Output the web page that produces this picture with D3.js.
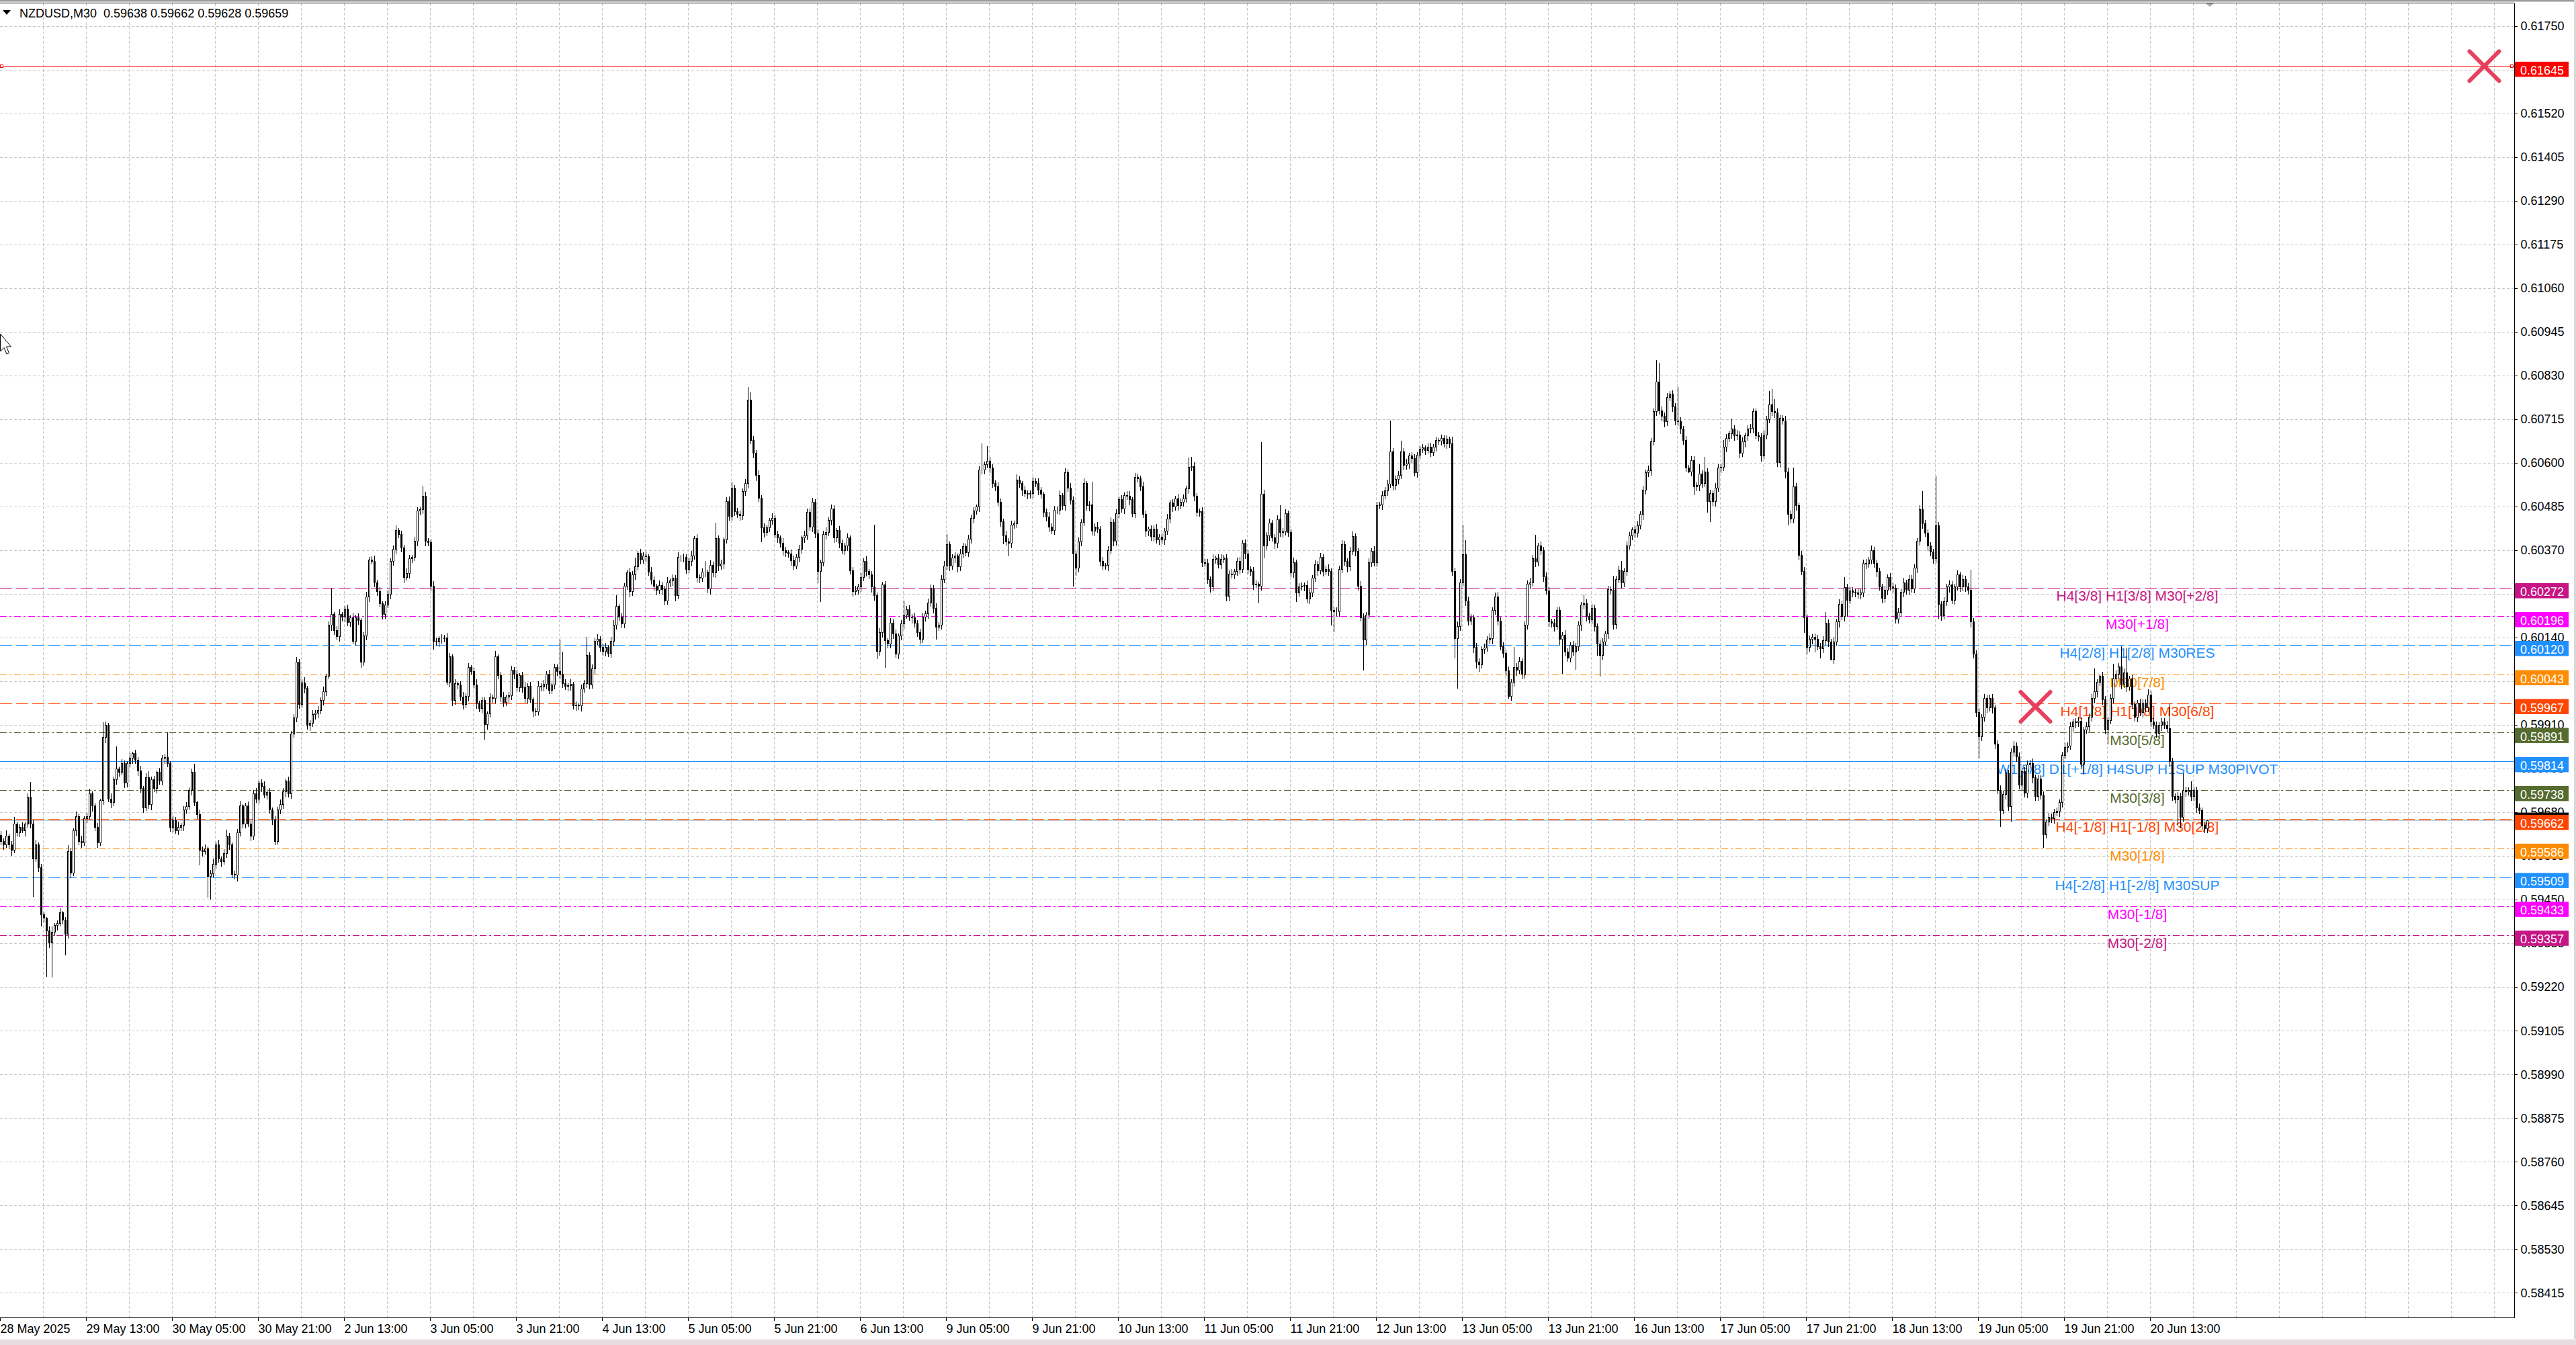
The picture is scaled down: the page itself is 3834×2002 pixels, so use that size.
<!DOCTYPE html>
<html>
<head>
<meta charset="utf-8">
<script src="https://cdn.jsdelivr.net/npm/d3@7"></script>
<style>
  body { margin: 0; background: #ffffff; }
  svg { display: block; }
</style>
</head>
<body>
<svg id="chart"></svg>
<script>
// NZDUSD M30, one value per bar, in points (0.00001) above priceBase
const priceBase = 0.59;
const firstOpen = 620;
const closes = [
  // 28 May 21:00 ..
  605,596,619,596,582,651,628,642,633,651,721,651,559,596,536,411,
  402,369,337,365,383,388,416,397,360,578,522,633,670,605,601,665,
  670,730,698,642,601,712,878,910,716,707,767,795,786,809,758,809,
  823,836,818,790,744,693,772,702,767,744,786,763,823,825,809,642,
  661,633,642,647,688,696,739,786,707,675,582,578,585,513,520,545,
  596,559,552,573,619,596,517,515,628,698,651,698,651,619,730,716,
  758,749,727,733,688,661,605,688,702,735,763,730,887,929,1077,966,
  1021,1008,910,915,938,943,949,975,998,1040,1174,1202,1160,1144,1202,1195,
  1216,1181,1193,1132,1193,1186,1077,1146,
  1248,1346,1342,1286,1262,1230,1202,1227,1255,1342,1374,1423,1412,1377,1300,1310,
  1349,1352,1395,1475,1478,1514,1395,1392,1276,1132,1129,1139,1139,1140,1024,1090,
  975,1020,1017,985,965,986,1062,1052,1017,968,954,975,912,940,982,981,
  1090,1041,985,971,985,988,1055,1045,1010,1041,1010,981,1013,978,947,945,
  1013,1012,1019,1045,1003,1017,1062,1052,1045,1020,1013,1014,1018,961,963,961,
  1006,1020,1094,1017,1059,1132,1136,1115,1105,1115,1100,1132,1174,1223,1195,1178,
  1276,1311,1262,1307,1328,1363,1346,1356,1354,1314,1293,1276,1265,1279,1268,1237,
  1286,1290,1297,1251,1353,1352,1353,1321,1342,1356,1402,1300,1297,1314,1314,1269,
  1332,1311,1402,1330,1335,1398,1500,1461,1535,1472,1466,
  1462,1526,1547,1767,1661,1626,1568,1509,1430,1418,1430,1450,1456,1412,1403,1389,
  1371,1365,1362,1344,1330,1353,1374,1403,1409,1471,1433,1497,1415,1315,1339,1412,
  1418,1450,1480,1403,1424,1389,1371,1383,1403,1318,1262,1266,1274,1300,1342,1315,
  1306,1274,1251,1104,1154,1280,1133,1124,1180,1151,1098,1145,1177,1201,1215,1195,
  1193,1180,1154,1137,1195,1204,1233,1271,1218,1168,1174,1295,1330,1386,1330,1350,
  1356,1327,1362,1380,1365,1400,1456,1474,1485,1582,1583,1597,1606,1588,1547,1538,
  1497,1447,1409,1394,1389,1438,1441,1556,1547,1529,1520,1518,1521,1553,1547,1529,
  1518,1471,1459,1433,1424,1477,1477,1515,1488,1576,1535,1503,1362,1324,1394,1444,
  1547,1488,1491,1421,1433,1427,1342,1330,1331,1371,1444,1395,
  1468,1504,1480,1516,1514,1504,1468,1563,1560,1539,1466,1421,1426,1407,1427,1398,
  1405,1398,1421,1454,1495,1486,1507,1489,1498,1507,1533,1589,1592,1513,1471,1472,
  1339,1337,1294,1274,1348,1350,1333,1348,1350,1250,1309,1307,1315,1342,1321,1389,
  1362,1321,1315,1280,1281,1277,1519,1383,1409,1442,1404,1389,1451,1418,1420,1468,
  1418,1312,1339,1259,1274,1277,1279,1242,1259,1297,1333,1318,1353,1315,1321,1315,
  1212,1210,1209,1321,1386,1342,1327,1368,1407,1368,1277,1194,1135,1200,1339,1368,
  1339,1489,1490,1516,1528,1545,1631,1542,1557,1569,1631,1595,1599,1619,1613,1575,
  1622,1637,1640,1634,1643,1628,1643,1660,1658,1666,1651,1663,1651,1315,1138,1171,
  1286,1359,1238,1185,1194,1115,1076,1070,1111,1114,1135,1138,
  1212,1249,1185,1118,1100,1054,987,1023,1063,1055,1078,1045,1173,1282,1285,1349,
  1340,1383,1370,1301,1264,1182,1179,1170,1212,1136,1148,1103,1088,1121,1103,1118,
  1173,1227,1231,1197,1188,1218,1170,1124,1094,1130,1151,1267,1265,1176,1294,1319,
  1285,1316,1383,1410,1425,1416,1435,1465,1529,1575,1581,1657,1736,1815,1739,1724,
  1709,1773,1782,1748,1712,1710,1690,1660,1587,1578,1608,1538,1541,1572,1547,1578,
  1499,1520,1499,1535,1587,1590,1642,1666,1678,1690,1672,1675,1626,1657,1672,1690,
  1692,1736,1672,1669,1620,1675,1715,1754,1736,1733,1602,1718,1712,1578,1465,1453,
  1538,1489,1358,1316,1194,1115,1136,1142,1136,1118,1112,1133,1179,1130,1084,1130,
  1182,1228,1197,1273,1240,1264,1261,1258,1256,1259,1337,1335,
  1345,1370,1336,1315,1274,1244,1265,1299,1274,1272,1190,1207,1261,1286,1265,1295,
  1269,1324,1395,1478,1441,1416,1382,1366,1349,1436,1228,1198,1236,1274,1280,1240,
  1274,1307,1274,1295,1274,1265,1182,1098,944,881,931,981,956,981,956,860,
  739,685,728,785,697,839,856,827,752,789,731,806,810,772,723,768,
  727,622,656,668,664,681,683,706,831,852,856,906,919,917,921,808,
  898,906,931,981,998,1023,1040,977,898,923,981,1032,1044,1065,1019,1048,
  1011,1032,965,931,969,944,969,956,990,919,910,889,910,919,910,902,
  814,723,714,723,668,739,735,739,723,739,693,685,647,638,659
];
// upper / lower shadow length of each bar, points
const wickUp = [
  12,8,15,6,10,18,7,9,14,5,11,40,9,13,6,10,
  8,5,12,16,7,10,14,6,9,18,11,7,13,8,15,6,
  10,14,7,9,12,6,42,11,8,16,9,60,7,13,10,8,
  15,6,11,9,14,7,12,18,8,10,6,13,9,11,67,7,
  12,9,16,7,10,13,8,11,23,6,14,9,12,7,10,15,
  8,13,6,11,17,9,7,12,10,14,6,9,13,8,11,16,
  7,10,15,9,12,6,11,8,14,10,7,13,9,12,14,8,
  11,16,7,10,13,8,12,9,15,6,10,69,8,12,14,7,
  10,13,8,15,9,12,7,11,14,8,10,16,9,12,7,11,
  13,8,10,15,7,12,9,14,11,8,13,10,7,28,12,9,
  8,14,10,7,12,9,15,11,8,13,6,10,14,9,12,7,
  11,15,8,12,10,7,13,9,16,8,11,14,7,10,12,9,
  13,8,11,15,9,12,7,10,14,8,12,9,13,7,11,10,
  84,60,12,9,14,8,11,7,13,10,49,9,12,8,15,10,
  9,13,7,11,14,30,8,12,10,9,15,11,25,8,12,10,
  12,8,14,10,7,13,9,11,15,8,12,10,13,7,11,9,
  10,14,8,12,9,11,30,7,13,10,42,9,12,8,11,14,
  17,9,12,10,8,13,34,21,11,9,14,8,12,10,7,13,
  9,12,8,14,10,7,11,13,9,12,8,15,10,11,13,9,
  12,8,11,14,9,13,10,7,12,11,9,14,8,10,13,9,
  11,9,14,8,12,165,10,13,9,11,8,14,10,12,7,11,
  38,10,12,9,14,8,11,13,9,12,10,9,14,8,11,13,
  29,9,12,10,8,14,11,9,13,10,12,8,11,70,9,40,
  12,10,9,13,11,8,14,10,12,9,15,11,8,13,10,9,
  12,9,14,10,8,11,13,9,12,10,14,8,11,9,13,10,
  9,12,10,14,8,11,62,10,13,9,12,8,11,14,9,12,
  10,13,9,11,14,8,12,10,9,13,11,8,12,10,14,9,
  11,9,13,10,12,8,14,10,11,9,27,25,12,10,9,13,
  10,12,9,14,8,11,13,9,12,10,14,8,11,13,9,12,
  10,9,13,11,8,138,12,10,14,9,11,13,40,10,12,9,
  11,13,9,12,10,8,14,11,9,13,10,12,8,11,14,10,
  9,12,10,13,11,8,12,14,9,10,13,11,9,12,10,14,
  11,9,12,10,13,82,9,11,12,29,10,13,9,11,12,8,
  9,11,8,10,12,9,11,8,10,9,12,8,20,11,13,10,
  80,40,12,10,9,13,11,8,12,10,14,9,11,13,10,12,
  9,12,10,55,11,13,9,12,10,14,11,64,9,12,10,13,
  11,9,13,10,12,8,14,11,9,13,10,12,9,24,11,10,
  12,10,9,13,11,8,12,10,40,11,13,24,9,12,10,8,
  11,13,9,12,10,14,11,9,58,50,12,10,13,9,11,12,
  90,12,10,13,9,11,12,10,27,11,39,10,12,9,13,11,
  10,20,12,9,28,11,13,10,12,9,11,13,10,9,12,10,
  13,11,37,43,34,12,10,9,13,11,12,52,10,9,12,11,
  10,12,9,11,13,10,12,30,11,9,13,10,15,12,28,11,
  12,10,9,13,11,10,12,9,14,10,12,11,9,13,10,12,
  11,9,12,10,13,9,11,12,10,9,13,50,11,10,12,9,
  132,11,10,12,9,13,11,10,12,9,11,10,12,55,11,10,
  12,9,13,11,10,12,9,11,13,10,12,9,11,13,10,12,
  9,11,12,10,13,9,11,12,10,9,13,11,10,12,9,11,
  12,10,13,9,11,12,10,9,13,11,12,63,10,4,11,12,
  10,12,41,11,9,54,12,66,10,13,11,9,12,10,11,16,
  12,10,11,9,13,10,12,67,11,9,12,10,46,11,9,25,
  11,10,12,9,10,3
];
const wickDn = [
  9,13,7,11,15,8,10,12,6,14,9,11,100,8,12,30,
  10,120,13,90,9,12,7,11,55,10,14,8,12,9,13,7,
  11,8,14,9,12,7,10,13,8,15,9,12,10,7,13,11,
  9,14,8,12,10,13,7,11,15,9,12,8,10,14,9,11,
  13,8,11,9,14,10,7,12,9,11,40,13,8,55,60,10,
  12,9,14,7,11,13,8,10,15,9,12,11,8,13,10,9,
  11,14,8,12,9,13,10,7,12,11,14,9,13,8,10,12,
  9,12,10,14,8,11,13,9,12,10,7,14,11,9,12,10,
  13,9,11,8,12,10,14,9,11,13,8,12,10,9,13,11,
  8,12,10,13,9,11,14,8,12,10,9,13,11,10,12,9,
  12,21,9,11,13,10,8,12,14,9,11,10,13,9,12,8,
  10,13,9,11,39,12,8,10,13,9,12,11,9,14,10,12,
  9,11,13,10,12,8,14,10,9,12,11,13,10,9,12,11,
  12,10,9,13,11,8,12,10,14,9,11,12,10,13,9,11,
  10,12,9,11,13,10,8,12,11,9,13,10,12,9,11,10,
  13,9,11,10,12,8,14,10,9,12,11,13,9,10,12,11,
  10,12,9,13,11,8,12,10,14,9,11,12,10,13,9,11,
  12,10,9,13,11,10,12,9,11,13,10,36,12,9,11,10,
  9,12,10,13,11,9,12,10,8,13,11,12,10,9,13,11,
  29,80,10,12,9,13,11,10,12,9,11,13,10,12,9,11,
  11,9,12,10,13,11,18,9,12,70,10,11,13,9,12,10,
  12,10,9,13,11,10,12,9,11,13,10,12,31,9,11,10,
  10,12,9,11,13,10,12,9,11,10,13,9,12,10,11,9,
  12,10,11,9,13,21,10,33,12,9,11,10,13,9,12,10,
  11,9,12,10,13,11,13,10,12,9,11,10,12,9,11,85,
  20,10,12,9,11,13,10,12,9,12,11,10,13,9,12,10,
  11,9,12,10,13,9,11,10,12,9,13,11,10,12,9,11,
  10,12,9,11,13,10,12,9,11,10,13,9,12,10,11,12,
  9,11,13,10,12,9,11,10,13,12,9,11,10,12,9,13,
  11,10,12,9,45,11,33,10,12,9,13,11,10,12,9,11,
  10,12,24,11,9,13,10,12,11,9,13,10,12,9,11,39,
  54,10,12,9,11,13,10,9,12,11,10,80,12,9,11,10,
  12,9,11,10,13,9,12,10,11,9,12,10,13,11,9,12,
  10,9,11,8,10,9,11,8,10,9,12,10,11,50,130,12,
  10,12,11,9,13,15,18,10,12,9,11,13,10,12,9,11,
  12,6,11,10,13,9,12,11,10,12,9,13,11,10,12,9,
  11,10,12,9,13,90,11,10,12,9,45,11,13,10,12,9,
  10,12,30,55,11,9,13,10,12,11,9,13,10,12,9,11,
  12,10,9,13,11,10,12,9,11,10,12,13,10,9,12,11,
  10,12,11,9,3,12,21,10,13,11,9,28,52,10,12,9,
  11,10,12,9,13,11,10,12,9,15,11,10,12,9,11,15,
  10,12,9,11,13,10,12,9,16,27,11,10,13,12,9,40,
  18,10,12,33,9,25,11,10,12,3,11,10,13,9,12,43,
  10,12,9,11,13,10,12,9,11,10,13,9,12,10,11,9,
  12,10,11,9,13,10,12,9,11,12,10,13,9,11,10,12,
  10,37,12,9,11,13,10,12,9,11,10,12,9,13,11,10,
  58,11,10,12,9,13,11,10,42,9,12,11,40,10,12,9,
  11,10,12,9,13,11,10,12,33,9,11,10,12,9,13,11,
  10,12,9,11,13,10,12,27,9,11,10,12,13,9,11,10,
  38,10,12,9,11,13,10,12,9,11,10,12,9,13,11,10,
  12,9,11,10,13,9,12,10,11,9,67,29,10,12,9,11,
  10,12,9,11,10,10
];

// time axis labels, one every 32 bars
const timeLabels = [
  "28 May 2025", "29 May 13:00", "30 May 05:00", "30 May 21:00", "2 Jun 13:00",
  "3 Jun 05:00", "3 Jun 21:00", "4 Jun 13:00", "5 Jun 05:00", "5 Jun 21:00",
  "6 Jun 13:00", "9 Jun 05:00", "9 Jun 21:00", "10 Jun 13:00", "11 Jun 05:00",
  "11 Jun 21:00", "12 Jun 13:00", "13 Jun 05:00", "13 Jun 21:00", "16 Jun 13:00",
  "17 Jun 05:00", "17 Jun 21:00", "18 Jun 13:00", "19 Jun 05:00", "19 Jun 21:00",
  "20 Jun 13:00"
];

// price axis labels
const priceTicks = [
  "0.61750", "0.61635", "0.61520", "0.61405", "0.61290", "0.61175", "0.61060",
  "0.60945", "0.60830", "0.60715", "0.60600", "0.60485", "0.60370", "0.60255",
  "0.60140", "0.60025", "0.59910", "0.59795", "0.59680", "0.59565", "0.59450",
  "0.59335", "0.59220", "0.59105", "0.58990", "0.58875", "0.58760", "0.58645",
  "0.58530", "0.58415"
];

// Murrey levels drawn on the chart
const levelPrices = [0.60272, 0.60196, 0.60120, 0.60043, 0.59967, 0.59891, 0.59814,
  0.59738, 0.59662, 0.59586, 0.59509, 0.59433, 0.59357];
const levelNames = [
  "H4[3/8] H1[3/8] M30[+2/8]", "M30[+1/8]", "H4[2/8] H1[2/8] M30RES", "M30[7/8]",
  "H4[1/8] H1[1/8] M30[6/8]", "M30[5/8]", "W1[5/8] D1[+1/8] H4SUP H1SUP M30PIVOT",
  "M30[3/8]", "H4[-1/8] H1[-1/8] M30[2/8]", "M30[1/8]", "H4[-2/8] H1[-2/8] M30SUP",
  "M30[-1/8]", "M30[-2/8]"
];
const targetPrice = 0.61645;
// cross objects: [bar index, price]
const crossMarks = [[924, 0.61645], [757, 0.59958]];

// styles for the levels (kept apart from the values)
const levelColors = ["#c71585", "#ff00ff", "#1e90ff", "#ff8c00", "#ff4500", "#556b2f", "#1e90ff",
  "#556b2f", "#ff4500", "#ff8c00", "#1e90ff", "#ff00ff", "#c71585"];
const DASH = "18,6", DASHDOT = "10,4,3,4";
const levelDash = [DASH, DASHDOT, DASH, DASHDOT, DASH, DASHDOT, null,
  DASHDOT, DASH, DASHDOT, DASH, DASHDOT, DASHDOT];

DrawChart();

function DrawChart() {
  const width = 3834;
  const height = 2002;
  const plotRight = 3742;
  const plotTop = 4.5;
  const plotBottom = 1961.5;
  const font = "'Liberation Sans', Arial, sans-serif";
  const toPrice = (v) => priceBase + v / 100000;

  const bars = closes.map((c, i) => {
    const o = i === 0 ? firstOpen : closes[i - 1];
    return {
      i: i,
      o: toPrice(o),
      c: toPrice(c),
      h: toPrice(Math.max(o, c) + wickUp[i]),
      l: toPrice(Math.min(o, c) - wickDn[i]),
    };
  });
  const last = bars[bars.length - 1];

  const svg = d3.select("#chart").attr("width", width).attr("height", height);

  // Create scales
  const xScale = d3.scaleLinear().domain([0, 935.5]).range([0, plotRight]);
  const yScale = d3
    .scaleLinear()
    .domain([0.58415, 0.6175])
    .range([1924.3, 39]);
  const py = (p) => Math.round(yScale(p)) + 0.5;

  svg.append("rect").attr("width", width).attr("height", height).attr("fill", "#ffffff");

  // Grid
  const grid = svg.append("g").attr("stroke", "#c6c6c6").attr("stroke-dasharray", "4,3").attr("shape-rendering", "crispEdges");
  grid
    .selectAll(".hgrid")
    .data(priceTicks.map(Number))
    .join("line")
    .attr("class", "hgrid")
    .attr("x1", 0)
    .attr("x2", plotRight)
    .attr("y1", py)
    .attr("y2", py);
  grid
    .selectAll(".vgrid")
    .data(d3.range(16, 935, 16))
    .join("line")
    .attr("class", "vgrid")
    .attr("x1", (d) => Math.round(xScale(d)) + 0.5)
    .attr("x2", (d) => Math.round(xScale(d)) + 0.5)
    .attr("y1", plotTop)
    .attr("y2", plotBottom);

  // Bid line
  svg
    .append("line")
    .attr("x1", 0)
    .attr("x2", plotRight)
    .attr("y1", py(last.c))
    .attr("y2", py(last.c))
    .attr("stroke", "#c0c0c0")
    .attr("shape-rendering", "crispEdges");

  // Level lines
  svg
    .append("g")
    .selectAll("line")
    .data(levelPrices)
    .join("line")
    .attr("x1", 0)
    .attr("x2", plotRight)
    .attr("y1", py)
    .attr("y2", py)
    .attr("stroke", (d, i) => levelColors[i])
    .attr("stroke-dasharray", (d, i) => levelDash[i])
    .attr("shape-rendering", "crispEdges");

  // Target line with its anchor points
  svg
    .append("line")
    .attr("x1", 0)
    .attr("x2", plotRight)
    .attr("y1", py(targetPrice))
    .attr("y2", py(targetPrice))
    .attr("stroke", "#ff0000")
    .attr("shape-rendering", "crispEdges");
  svg
    .selectAll(".anchor")
    .data([0.5, plotRight - 5.5])
    .join("rect")
    .attr("class", "anchor")
    .attr("x", (d) => d)
    .attr("y", py(targetPrice) - 2)
    .attr("width", 4)
    .attr("height", 4)
    .attr("fill", "#ffffff")
    .attr("stroke", "#ff0000")
    .attr("shape-rendering", "crispEdges");

  // Level captions
  svg
    .append("g")
    .selectAll("text")
    .data(levelPrices)
    .join("text")
    .attr("x", 3181)
    .attr("y", (d) => yScale(d) + 19)
    .attr("text-anchor", "middle")
    .attr("font-family", font)
    .attr("font-size", "21px")
    .attr("fill", (d, i) => levelColors[i])
    .text((d, i) => levelNames[i]);

  // Candles
  const candles = svg.append("g").attr("shape-rendering", "crispEdges");
  candles
    .selectAll("line")
    .data(bars)
    .join("line")
    .attr("x1", (d) => xScale(d.i) + 1.5)
    .attr("x2", (d) => xScale(d.i) + 1.5)
    .attr("y1", (d) => py(d.h))
    .attr("y2", (d) => py(d.l))
    .attr("stroke", "#000000");
  candles
    .selectAll("rect")
    .data(bars)
    .join("rect")
    .attr("x", (d) => xScale(d.i) + 0.5)
    .attr("y", (d) => py(Math.max(d.o, d.c)))
    .attr("width", 2)
    .attr("height", (d) => py(Math.min(d.o, d.c)) - py(Math.max(d.o, d.c)))
    .attr("fill", (d) => (d.c >= d.o ? "#ffffff" : "#000000"))
    .attr("stroke", "#000000");

  // Cross objects
  crossMarks.forEach(([bar, price]) => {
    const cx = xScale(bar) + 1.5;
    const cy = yScale(price);
    const r = 22;
    svg
      .append("path")
      .attr("d", `M${cx - r},${cy - r}L${cx + r},${cy + r}M${cx + r},${cy - r}L${cx - r},${cy + r}`)
      .attr("stroke", "#e8405f")
      .attr("stroke-width", 6)
      .attr("stroke-linecap", "round")
      .attr("fill", "none");
  });

  // Frame
  const frame = svg.append("g").attr("stroke", "#000000").attr("shape-rendering", "crispEdges");
  frame.append("line").attr("x1", 0).attr("x2", plotRight).attr("y1", plotTop).attr("y2", plotTop);
  frame.append("line").attr("x1", 0).attr("x2", plotRight).attr("y1", plotBottom).attr("y2", plotBottom);
  frame.append("line").attr("x1", plotRight + 0.5).attr("x2", plotRight + 0.5).attr("y1", plotTop).attr("y2", plotBottom);

  // Add y-axis
  const yAxis = d3
    .axisRight(yScale)
    .tickValues(priceTicks.map(Number))
    .tickFormat((d, i) => priceTicks[i])
    .tickSize(4)
    .tickPadding(5);
  const yAxisG = svg
    .append("g")
    .attr("transform", `translate(${plotRight + 0.5},0)`)
    .call(yAxis);
  yAxisG.select(".domain").remove();
  yAxisG.selectAll("line").attr("shape-rendering", "crispEdges");
  yAxisG.selectAll("text").attr("font-family", font).attr("font-size", "18px").attr("fill", "#000000");

  // Add x-axis
  const xAxis = d3
    .axisBottom(xScale)
    .tickValues(timeLabels.map((d, i) => i * 32))
    .tickFormat((d, i) => timeLabels[i])
    .tickSize(4);
  const xAxisG = svg
    .append("g")
    .attr("transform", `translate(0,${plotBottom})`)
    .call(xAxis);
  xAxisG.select(".domain").remove();
  xAxisG.selectAll("line").attr("shape-rendering", "crispEdges");
  xAxisG
    .selectAll("text")
    .attr("font-family", font)
    .attr("font-size", "18px")
    .attr("fill", "#000000")
    .attr("text-anchor", "start")
    .attr("dy", null)
    .attr("y", 22.5);

  // Price tags on the right scale
  const tags = [{ p: targetPrice, color: "#ff0000" }].concat(
    levelPrices.map((p, i) => ({ p: p, color: levelColors[i] }))
  );
  svg
    .append("rect")
    .attr("x", plotRight + 1)
    .attr("y", yScale(last.c) - 11.5)
    .attr("width", 80)
    .attr("height", 23)
    .attr("fill", "#000000");
  const tagG = svg.append("g").selectAll("g").data(tags).join("g");
  tagG
    .append("rect")
    .attr("x", plotRight + 1)
    .attr("y", (d) => yScale(d.p) - 6.5)
    .attr("width", 80)
    .attr("height", 22.5)
    .attr("fill", (d) => d.color);
  tagG
    .append("text")
    .attr("x", 3751)
    .attr("y", (d) => yScale(d.p) + 12.6)
    .attr("font-family", font)
    .attr("font-size", "18px")
    .attr("fill", "#ffffff")
    .text((d) => d.p.toFixed(5));

  // Window edges
  svg.append("rect").attr("width", width).attr("height", 2.5).attr("fill", "#9c9c9c");
  svg.append("rect").attr("x", width - 3).attr("width", 3).attr("height", height).attr("fill", "#d9d9d9");
  svg.append("rect").attr("y", 1994).attr("width", width).attr("height", 8).attr("fill", "#e7dde1");
  svg.append("line").attr("x1", 0).attr("x2", width).attr("y1", 1993.5).attr("y2", 1993.5).attr("stroke", "#f4f0f2");
  svg
    .append("path")
    .attr("d", "M3283,5L3295,5L3289,10Z")
    .attr("fill", "#a8a8a8");

  // Chart title
  svg
    .append("path")
    .attr("d", "M4,15L16,15L10,22Z")
    .attr("fill", "#000000");
  const fmt = d3.format(".5f");
  svg
    .append("text")
    .attr("x", 29)
    .attr("y", 25.5)
    .attr("font-family", font)
    .attr("font-size", "18px")
    .attr("fill", "#000000")
    .style("white-space", "pre")
    .text(`NZDUSD,M30  ${fmt(last.o)} ${fmt(last.h)} ${fmt(last.l)} ${fmt(last.c)}`);

  // Mouse pointer
  svg
    .append("path")
    .attr("d", "M0.5,497L0.5,523L6,517.5L10,527L13.5,525.5L9.5,516L16.5,516Z")
    .attr("fill", "#ffffff")
    .attr("stroke", "#000000");
}
</script>
</body>
</html>
